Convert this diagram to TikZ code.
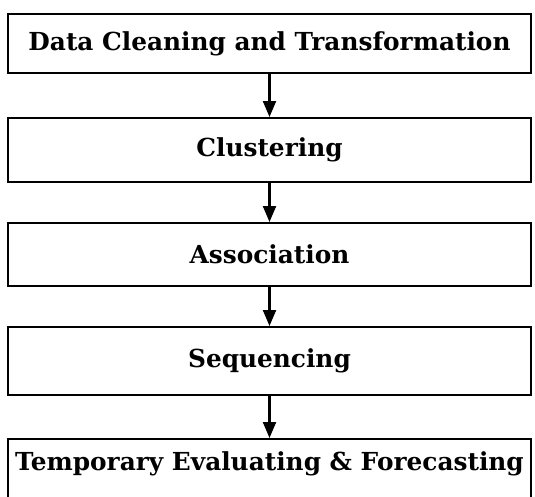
\documentclass[tikz,border=0pt]{standalone}
\usepackage{fontspec}
\setmainfont{DejaVu Serif}
\usetikzlibrary{arrows.meta}

\begin{document}
\begin{tikzpicture}[x=1pt,y=-1pt,
        stagebox/.style={draw=black,line width=2pt,anchor=north,inner sep=0,minimum width=523pt,font=\bfseries\fontsize{24.8}{28}\selectfont},
        flowarrow/.style={-{Triangle[width=13pt,length=16pt]},line width=2.2pt}]
        \useasboundingbox (0,0) rectangle (535,496);
        \node[stagebox,minimum height=59pt] (clean) at (269.5,13) {Data Cleaning and Transformation};
        \node[stagebox,minimum height=64pt] (cluster) at (269.5,117) {Clustering};
        \node[stagebox,minimum height=63pt] (assoc) at (269.5,222) {Association};
        \node[stagebox,minimum height=68pt] (seq) at (269.5,326) {Sequencing};
        % last box runs past the lower edge of the page
        \node[stagebox,text height=31pt,text depth=33pt] (forecast) at (269.5,438) {Temporary Evaluating \& Forecasting};
        \draw[flowarrow] (clean) -- (cluster);
        \draw[flowarrow] (cluster) -- (assoc);
        \draw[flowarrow] (assoc) -- (seq);
        \draw[flowarrow] (seq) -- (forecast);
    \end{tikzpicture}
\end{document}
